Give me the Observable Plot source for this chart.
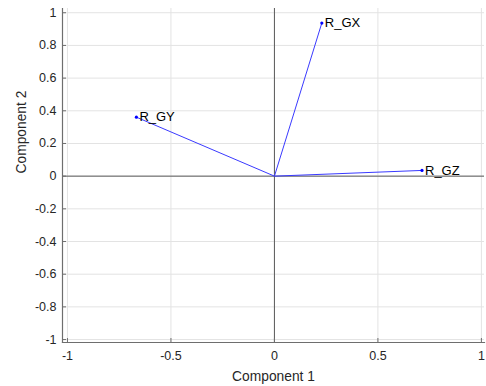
<!DOCTYPE html>
<html>
<head>
<meta charset="utf-8">
<script src="https://cdn.jsdelivr.net/npm/d3@7"></script>
<script src="https://cdn.jsdelivr.net/npm/@observablehq/plot@0.6"></script>
<style>
  html, body { margin: 0; padding: 0; background: #fff; }
  svg { display: block; }
</style>
</head>
<body>
<div id="chart"></div>
<script>
const labels = ["R_GX", "R_GY", "R_GZ"];
const comp1 = [0.229, -0.667, 0.713];
const comp2 = [0.937, 0.361, 0.035];
const xTicks = [-1, -0.5, 0, 0.5, 1];
const yTicks = [-1, -0.8, -0.6, -0.4, -0.2, 0, 0.2, 0.4, 0.6, 0.8, 1];
const xLabel = "Component 1";
const yLabel = "Component 2";

const vectors = labels.map((name, i) => ({name, x: comp1[i], y: comp2[i]}));
const font = "'Liberation Sans', Arial, Helvetica, sans-serif";
const W = 486, H = 386, mL = 62, mR = 2, mT = 8, mB = 44;
const frameW = W - mL - mR, frameH = H - mT - mB;
const axisColor = "#6e6e6e";

const chart = Plot.plot({
  width: W,
  height: H,
  marginLeft: mL,
  marginRight: mR,
  marginTop: mT,
  marginBottom: mB,
  style: {fontFamily: font, background: "#fff", overflow: "visible"},
  x: {domain: [-1.024, 1.015]},
  y: {domain: [-1.018, 1.026]},
  marks: [
    Plot.gridX(xTicks, {stroke: "#e3e3e3", strokeOpacity: 1}),
    Plot.gridY(yTicks, {stroke: "#e3e3e3", strokeOpacity: 1}),
    Plot.ruleX([0], {stroke: "#5a5a5a", strokeWidth: 1}),
    Plot.ruleY([0], {stroke: "#5a5a5a", strokeWidth: 1}),
    // inward ticks
    Plot.ruleX(xTicks, {stroke: axisColor, insetTop: frameH - 4}),
    Plot.ruleY(yTicks, {stroke: axisColor, insetRight: frameW - 4}),
    Plot.frame({anchor: "left", stroke: axisColor, strokeWidth: 1.2}),
    Plot.frame({anchor: "bottom", stroke: axisColor, strokeWidth: 1.2}),
    Plot.axisX(xTicks, {tickSize: 0, tickPadding: 9, label: null, fontSize: 12.5, fill: "#262626", tickFormat: d => String(d)}),
    Plot.axisY(yTicks, {tickSize: 0, tickPadding: 6, label: null, fontSize: 12.5, fill: "#262626", tickFormat: d => String(d)}),
    Plot.text([xLabel], {frameAnchor: "bottom", dy: 34, fontSize: 13.8, fill: "#262626", lineAnchor: "middle"}),
    Plot.text([yLabel], {frameAnchor: "left", dx: -41, dy: -2, rotate: -90, fontSize: 13.8, fill: "#262626", lineAnchor: "middle"}),
    Plot.link(vectors, {x1: 0, y1: 0, x2: "x", y2: "y", stroke: "#3a3aff", strokeWidth: 1}),
    Plot.dot(vectors, {x: "x", y: "y", r: 1.6, fill: "#0000ff", stroke: null}),
    Plot.text(vectors, {x: "x", y: "y", text: "name", textAnchor: "start", dx: 3, fontSize: 13, fill: "#000", lineAnchor: "middle"})
  ]
});
document.getElementById("chart").appendChild(chart);
</script>
</body>
</html>
